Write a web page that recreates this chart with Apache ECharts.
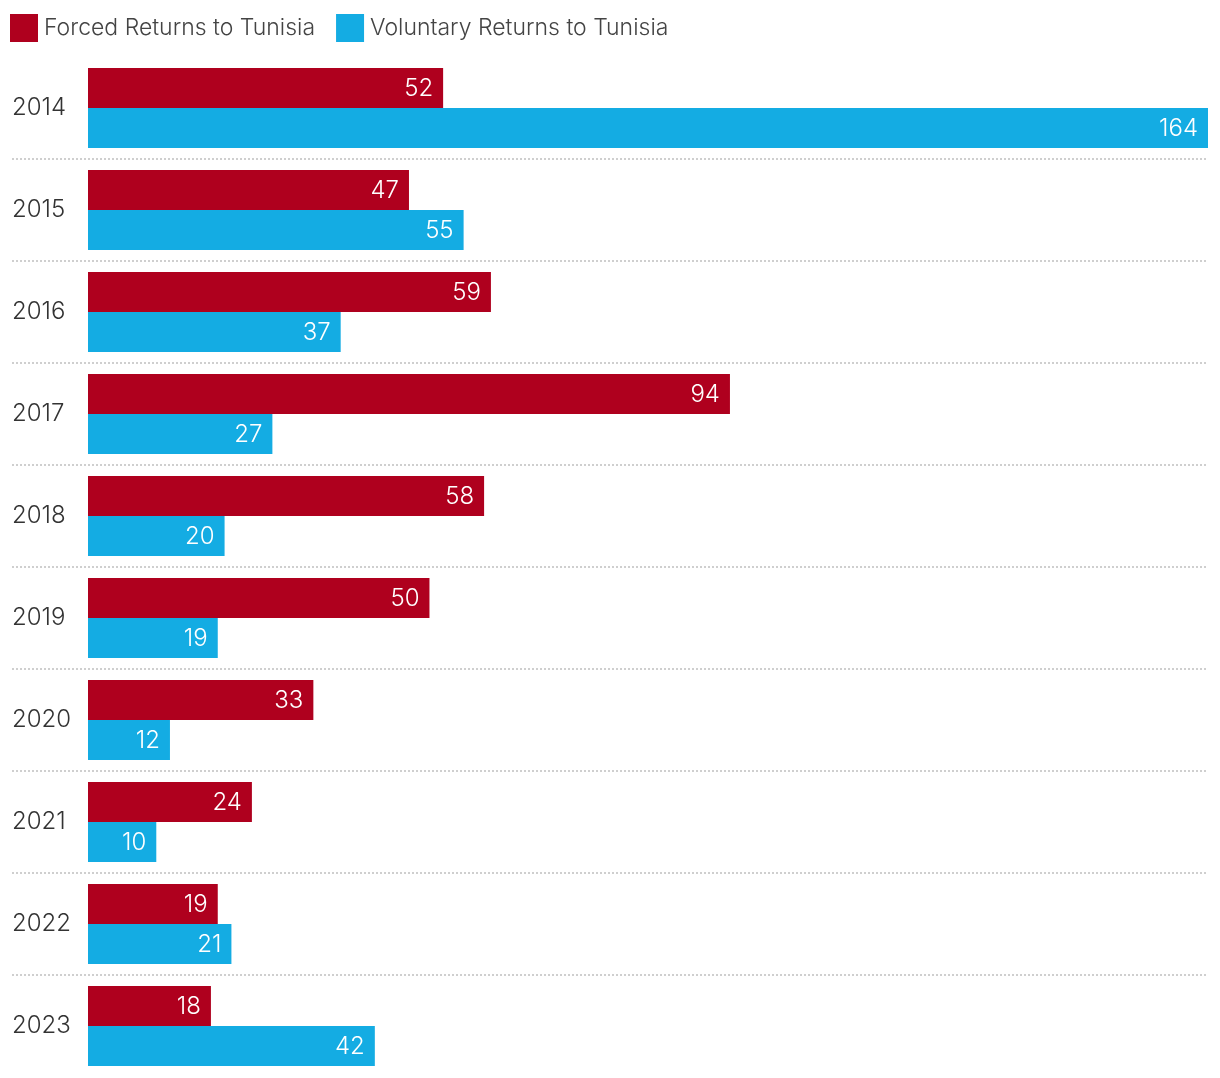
<!DOCTYPE html>
<html><head><meta charset="utf-8">
<script src="https://cdn.jsdelivr.net/npm/echarts@6/dist/echarts.min.js"></script>
<style>html,body{margin:0;padding:0;background:#fff}#c{width:1220px;height:1078px}</style>
</head><body><div id="c"></div>
<script>
const years = ['2014','2015','2016','2017','2018','2019','2020','2021','2022','2023'];
const forced = [52,47,59,94,58,50,33,24,19,18];
const voluntary = [164,55,37,27,20,19,12,10,21,42];
const seriesNames = ['Forced Returns to Tunisia','Voluntary Returns to Tunisia'];
const colors = ['#AF001E','#14ACE3'];
const FONT = 'Inter';
const chart = echarts.init(document.getElementById('c'));
const lbl = {show:true, position:'insideRight', distance:10, offset:[0,1], color:'#fff', fontSize:24, fontFamily:FONT, fontWeight:300};
chart.setOption({
  animation:false,
  color:colors,
  legend:{left:10, top:14, padding:0, itemWidth:28, itemHeight:28, itemGap:21, icon:'rect',
    textStyle:{fontSize:23, color:'#444', fontFamily:FONT, fontWeight:300, padding:[0,0,0,1]}, data:seriesNames},
  grid:[
    {left:88, right:12, top:57, bottom:1},
    {left:12, right:12, top:57, bottom:1}
  ],
  xAxis:[
    {gridIndex:0, type:'value', min:0, max:164, show:false},
    {gridIndex:1, type:'value', min:0, max:1, show:false}
  ],
  yAxis:[
    {gridIndex:0, type:'category', data:years, inverse:true,
      axisLine:{show:false}, axisTick:{show:false}, splitLine:{show:false},
      axisLabel:{align:'left', margin:76, fontSize:24, color:'#333', fontFamily:FONT, fontWeight:300, padding:[4,0,0,0]}},
    {gridIndex:1, type:'value', min:0, max:years.length, interval:1, inverse:true,
      axisLine:{show:false}, axisTick:{show:false}, axisLabel:{show:false},
      splitLine:{show:true, showMinLine:false, showMaxLine:false,
        lineStyle:{color:'#cfcfcf', width:2, type:[2,2]}}}
  ],
  series:[
    {name:seriesNames[0], type:'bar', data:forced, barWidth:40, barGap:'0%', label:lbl, xAxisIndex:0, yAxisIndex:0},
    {name:seriesNames[1], type:'bar', data:voluntary, barWidth:40, barGap:'0%', label:lbl, xAxisIndex:0, yAxisIndex:0}
  ]
});
</script></body></html>
